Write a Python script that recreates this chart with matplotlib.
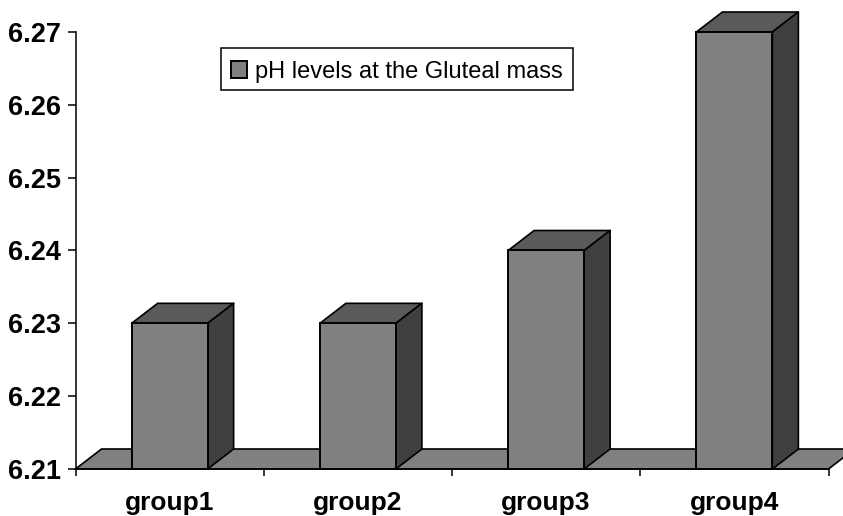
import matplotlib
matplotlib.use('Agg')
import matplotlib.pyplot as plt
from matplotlib.patches import Polygon

groups = ['group1', 'group2', 'group3', 'group4']
ph_levels = [6.23, 6.23, 6.24, 6.27]
y_ticks = [6.21, 6.22, 6.23, 6.24, 6.25, 6.26, 6.27]

plt.rcParams['font.family'] = ['Liberation Sans', 'DejaVu Sans']

FIG_W, FIG_H = 843, 516
LEFT, RIGHT, TOP, BOTTOM = 75.5, 828.5, 32, 469
DEPTH_X, DEPTH_Y = 26, 20  # oblique depth of the fake 3D, in pixels
FRONT, ROOF, SIDE = '#808080', '#5a5a5a', '#404040'

fig = plt.figure(figsize=(FIG_W / 100, FIG_H / 100), dpi=100)
ax = fig.add_axes([LEFT / FIG_W, 1 - BOTTOM / FIG_H, (RIGHT - LEFT) / FIG_W, (BOTTOM - TOP) / FIG_H])
ax.set_xlim(-0.5, len(groups) - 0.5)
ax.set_ylim(y_ticks[0], y_ticks[-1])

# depth converted to data units
dx = DEPTH_X * (len(groups)) / (RIGHT - LEFT)
dy = DEPTH_Y * (y_ticks[-1] - y_ticks[0]) / (BOTTOM - TOP)
base = y_ticks[0]


def oblique(points, color, z):
    ax.add_patch(Polygon(points, closed=True, facecolor=color, edgecolor='black',
                         linewidth=1.2, joinstyle='round', clip_on=False, zorder=z))


# floor
x0, x1 = ax.get_xlim()
oblique([(x0, base), (x1, base), (x1 + dx, base + dy), (x0 + dx, base + dy)], FRONT, 1)

bar_width = 76 / ((RIGHT - LEFT) / len(groups))
bars = ax.bar(range(len(groups)), [v - base for v in ph_levels], bottom=base, width=bar_width,
              color=FRONT, edgecolor='black', linewidth=1.4, zorder=3, clip_on=False,
              label='pH levels at the Gluteal mass')

for bar, value in zip(bars, ph_levels):
    l = bar.get_x()
    r = l + bar.get_width()
    oblique([(l, value), (r, value), (r + dx, value + dy), (l + dx, value + dy)], ROOF, 2.5)
    oblique([(r, base), (r + dx, base + dy), (r + dx, value + dy), (r, value)], SIDE, 2.5)

for name in ['top', 'right']:
    ax.spines[name].set_visible(False)
for name in ['left', 'bottom']:
    ax.spines[name].set_linewidth(1.1)
    ax.spines[name].set_zorder(4)

ax.set_yticks(y_ticks)
ax.set_yticklabels([f'{v:.2f}' for v in y_ticks], fontsize=19.5, fontweight='bold')
ax.tick_params(axis='y', length=5.5, width=1.1, pad=5)

ax.set_xticks([i - 0.5 for i in range(len(groups) + 1)])
ax.set_xticklabels([])
ax.set_xticks(range(len(groups)), minor=True)
ax.set_xticklabels(groups, minor=True, fontsize=19, fontweight='bold')
ax.tick_params(axis='x', which='major', length=5, width=1.1)
ax.tick_params(axis='x', which='minor', length=0, pad=15.5)

leg = ax.legend(loc='upper left', bbox_to_anchor=(221 / FIG_W, 1 - 48 / FIG_H),
                bbox_transform=fig.transFigure, fontsize=17, frameon=True, fancybox=False,
                framealpha=1, edgecolor='black', borderaxespad=0, borderpad=0.42,
                handlelength=0.68, handleheight=0.68, handletextpad=0.34)
leg.get_frame().set_linewidth(1.1)
leg.set_zorder(5)
# the reference sits its entry a little below the middle of the box
leg.get_texts()[0].set_y(-3)
swatch = leg.get_patches()[0]
swatch.set_y(swatch.get_y() - 2)

fig.savefig('out.png', dpi=100)
